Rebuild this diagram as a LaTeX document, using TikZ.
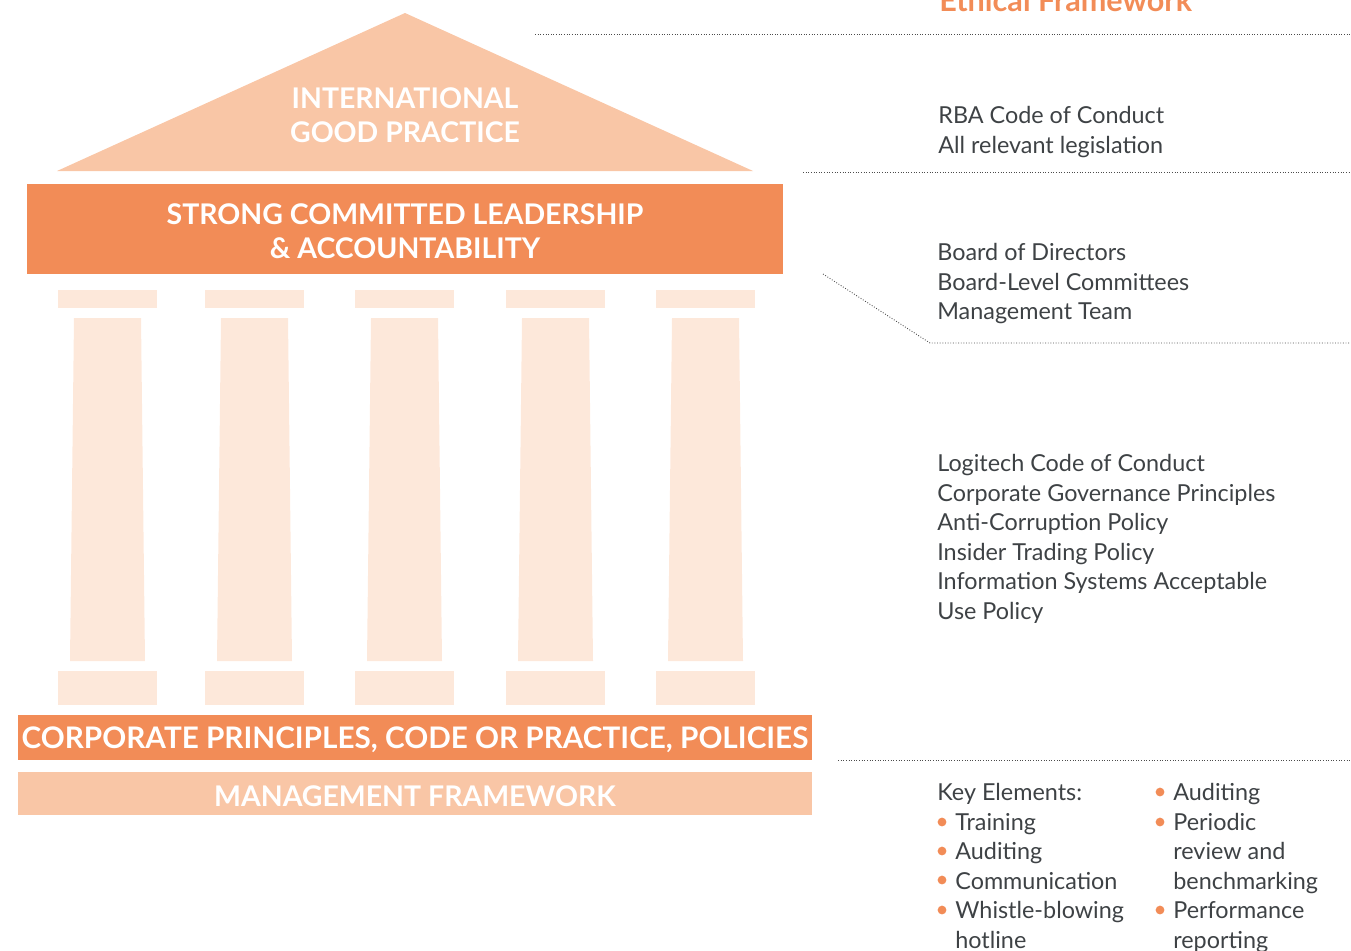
\documentclass[tikz,border=0pt]{standalone}
\usepackage{xcolor}
\usepackage{fontspec}
\setmainfont{Lato}
\usepackage{tikz}
\usetikzlibrary{calc,positioning}
\definecolor{lgorange}{HTML}{F28C57}
\definecolor{lgpeach}{HTML}{F9C6A6}
\definecolor{lgpale}{HTML}{FDE8DA}
\definecolor{lgtext}{HTML}{3E4245}

\begin{document}
\begin{tikzpicture}[x=0.02cm, y=-0.02cm,
          band/.style={fill=lgorange, draw=none},
          softband/.style={fill=lgpeach, draw=none},
          pillar/.style={fill=lgpale, draw=none},
          head/.style={white, font=\bfseries\fontsize{16.2}{19.4}\selectfont, align=center, inner sep=0pt},
          body/.style={lgtext, font=\fontsize{13.3}{16.8}\selectfont, align=left, anchor=north west, inner sep=0pt},
          sep/.style={densely dotted, line width=0.5pt, black!70},
          dot/.style={circle, fill=lgorange, inner sep=0pt, minimum size=5pt},
        ]
        \useasboundingbox (0,0) rectangle (1351,950);
        % roof and bands
        \fill[softband] (405,13) -- (753,171) -- (57,171) -- cycle;
        \node[head] (roof) at (405,115) {INTERNATIONAL\\GOOD PRACTICE};
        \fill[band] (27,184) rectangle (783,274);
        \node[head] (lead) at (405,231) {STRONG COMMITTED LEADERSHIP\\\& ACCOUNTABILITY};
        \foreach \cx in {107.5,254.5,404.5,555.5,705.5} {
          \fill[pillar] (\cx-49.5,290) rectangle (\cx+49.5,308);
          \fill[pillar] (\cx-33.5,318) -- (\cx+33.5,318) -- (\cx+37.5,661) -- (\cx-37.5,661) -- cycle;
          \fill[pillar] (\cx-49.5,671) rectangle (\cx+49.5,705);
        }
        \fill[band] (18,715) rectangle (812,760);
        \node[head, font=\bfseries\fontsize{16.9}{19.4}\selectfont] (corp) at (415,740) {CORPORATE PRINCIPLES, CODE OR PRACTICE, POLICIES};
        \fill[softband] (18,772) rectangle (812,815);
        \node[head] (mgmt) at (415,796) {MANAGEMENT FRAMEWORK};

        % right column
        \node[lgorange, font=\bfseries\fontsize{17.4}{22}\selectfont, anchor=base west, inner sep=0pt] (title) at (939,11) {Ethical Framework};
        \coordinate (s1a) at (535,34); \coordinate (s1b) at (1350,34);
        \draw[sep] (s1a) -- (s1b);
        \node[body] (rba) at (938,106) {RBA Code of Conduct\\All relevant legislation};
        \coordinate (s2a) at (803,172); \coordinate (s2b) at (1350,172);
        \draw[sep] (s2a) -- (s2b);
        \node[body] (board) at (937,243) {Board of Directors\\Board-Level Committees\\Management Team};
        \coordinate (s3a) at (823,274); \coordinate (s3k) at (930,343); \coordinate (s3b) at (1350,343);
        \draw[sep] (s3a) -- (s3k) -- (s3b);
        \node[body] (code) at (937,454) {Logitech Code of Conduct\\Corporate Governance Principles\\Anti-Corruption Policy\\Insider Trading Policy\\Information Systems Acceptable\\Use Policy};
        \coordinate (s4a) at (838,760); \coordinate (s4b) at (1350,760);
        \draw[sep] (s4a) -- (s4b);
        \node[body] (key) at (937,783) {Key Elements:};
        \node[body] (keyl) at (955,813) {Training\\Auditing\\Communication\\Whistle-blowing\\hotline};
        \node[body] (keyr) at (1173,783) {Auditing\\Periodic\\review and\\benchmarking\\Performance\\reporting};
        \foreach \yy in {822,851,880,910} \node[dot] at (942,\yy) {};
        \foreach \yy in {792,822,910} \node[dot] at (1160,\yy) {};
      \end{tikzpicture}
\end{document}
